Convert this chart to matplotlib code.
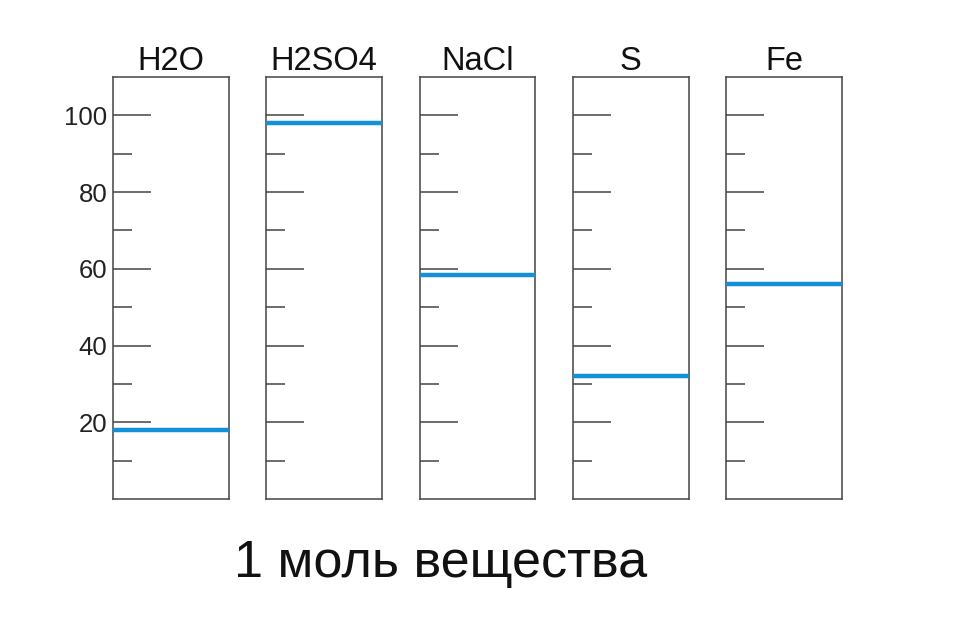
import matplotlib
matplotlib.use("Agg")
import matplotlib.pyplot as plt
from matplotlib.ticker import FixedLocator

plt.rcParams['font.family'] = ['Liberation Sans', 'DejaVu Sans']

substances = ["H2O", "H2SO4", "NaCl", "S", "Fe"]
molar_mass = [18, 98, 58.5, 32, 56]
major_ticks = [20, 40, 60, 80, 100]
minor_ticks = [10, 30, 50, 70, 90]
xlabel_text = "1 моль вещества"

W, H = 960, 640
fig = plt.figure(figsize=(W / 100, H / 100), dpi=100)

left0, step, width = 113, 153.25, 116
top, bottom = 77, 499
edge = "#444444"

for i, (name, val) in enumerate(zip(substances, molar_mass)):
    x = left0 + i * step
    ax = fig.add_axes([x / W, 1 - bottom / H, width / W, (bottom - top) / H])
    ax.set_xlim(0, 1)
    ax.set_ylim(0, 110)
    ax.set_xticks([])
    ax.yaxis.set_major_locator(FixedLocator(major_ticks))
    ax.yaxis.set_minor_locator(FixedLocator(minor_ticks))
    ax.tick_params(axis='y', which='major', direction='in', length=27.5,
                   width=1.1, color=edge, labelsize=18.5, pad=4, labelcolor='#222222')
    ax.tick_params(axis='y', which='minor', direction='in', length=13.7,
                   width=1.1, color=edge)
    if i > 0:
        ax.tick_params(axis='y', labelleft=False)
    for s in ax.spines.values():
        s.set_color(edge)
        s.set_linewidth(1.1)
    ax.axhline(val, color="#1290d8", lw=3.2, zorder=5)
    ax.set_title(name, fontsize=23.5, pad=4.5, color='#111111')

fig.text(441 / W, 1 - 577 / H, xlabel_text, ha='center', va='baseline',
         fontsize=37.5, color='#111111')

fig.savefig("out.png", dpi=100, facecolor='white')
